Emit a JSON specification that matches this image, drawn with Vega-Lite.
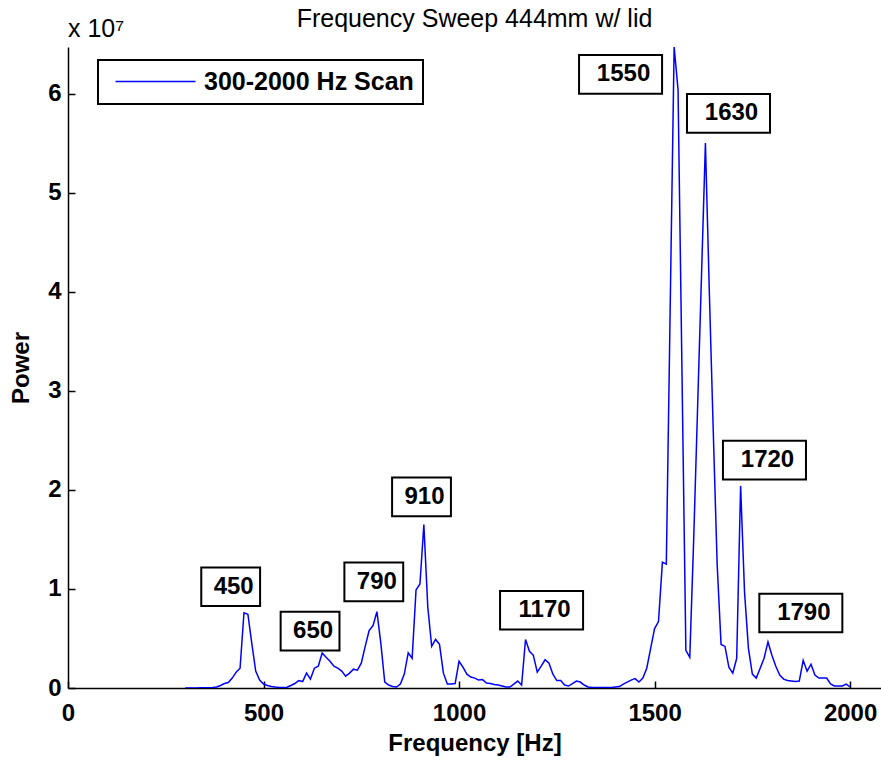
{
  "$schema": "https://vega.github.io/schema/vega-lite/v6.json",
  "width": 813,
  "height": 641,
  "autosize": {"type": "none"},
  "padding": {"left": 68, "top": 47, "right": 0, "bottom": 72},
  "background": "white",
  "title": {"text": "Frequency Sweep 444mm w/ lid", "fontSize": 25, "fontWeight": "normal", "font": "Liberation Sans", "color": "black", "offset": 0, "dy": 15, "anchor": "middle"},
  "config": {
    "view": {"stroke": null},
    "font": "Liberation Sans",
    "axis": {"domainColor": "black", "domainWidth": 1.5, "tickColor": "black", "tickWidth": 1.5, "tickSize": -7, "labelFont": "Liberation Sans", "labelFontSize": 24, "labelFontWeight": "bold", "labelColor": "black", "titleFont": "Liberation Sans", "titleFontSize": 24, "titleFontWeight": "bold", "titleColor": "black", "grid": false, "labelOverlap": false, "labelFlush": false},
    "legend": {"strokeColor": "black", "strokeWidth": 2, "fillColor": "white", "padding": 9, "labelFont": "Liberation Sans", "labelFontSize": 25, "labelFontWeight": "bold", "labelColor": "black", "labelLimit": 0}
  },
  "datasets": {
    "sweep": [
      {"f":300,"p":0},{"f":310,"p":10000},{"f":320,"p":10000},{"f":330,"p":10000},{"f":340,"p":20000},{"f":350,"p":20000},{"f":360,"p":30000},{"f":370,"p":50000},{"f":380,"p":100000},{"f":390,"p":250000},
      {"f":400,"p":450000},{"f":410,"p":550000},{"f":420,"p":1000000},{"f":430,"p":1600000},{"f":440,"p":2000000},{"f":450,"p":7600000},{"f":460,"p":7450000},{"f":470,"p":4500000},{"f":480,"p":1700000},{"f":490,"p":800000},
      {"f":500,"p":400000},{"f":510,"p":250000},{"f":520,"p":150000},{"f":530,"p":100000},{"f":540,"p":60000},{"f":550,"p":40000},{"f":560,"p":80000},{"f":570,"p":250000},{"f":580,"p":450000},{"f":590,"p":750000},
      {"f":600,"p":650000},{"f":610,"p":1500000},{"f":620,"p":900000},{"f":630,"p":2000000},{"f":640,"p":2200000},{"f":650,"p":3540000},{"f":660,"p":3100000},{"f":670,"p":2700000},{"f":680,"p":2200000},{"f":690,"p":2000000},
      {"f":700,"p":1700000},{"f":710,"p":1200000},{"f":720,"p":1500000},{"f":730,"p":1900000},{"f":740,"p":1800000},{"f":750,"p":2500000},{"f":760,"p":4200000},{"f":770,"p":5800000},{"f":780,"p":6300000},{"f":790,"p":7700000},
      {"f":800,"p":4500000},{"f":810,"p":600000},{"f":820,"p":300000},{"f":830,"p":150000},{"f":840,"p":100000},{"f":850,"p":400000},{"f":860,"p":1400000},{"f":870,"p":3540000},{"f":880,"p":3000000},{"f":890,"p":9900000},
      {"f":900,"p":10500000},{"f":910,"p":16500000},{"f":920,"p":8200000},{"f":930,"p":4200000},{"f":940,"p":4900000},{"f":950,"p":4400000},{"f":960,"p":1500000},{"f":970,"p":400000},{"f":980,"p":400000},{"f":990,"p":450000},
      {"f":1000,"p":2700000},{"f":1010,"p":2100000},{"f":1020,"p":1400000},{"f":1030,"p":1100000},{"f":1040,"p":1000000},{"f":1050,"p":800000},{"f":1060,"p":850000},{"f":1070,"p":500000},{"f":1080,"p":450000},{"f":1090,"p":350000},
      {"f":1100,"p":300000},{"f":1110,"p":200000},{"f":1120,"p":100000},{"f":1130,"p":100000},{"f":1140,"p":400000},{"f":1150,"p":700000},{"f":1160,"p":300000},{"f":1170,"p":4900000},{"f":1180,"p":3700000},{"f":1190,"p":3300000},
      {"f":1200,"p":1600000},{"f":1210,"p":2200000},{"f":1220,"p":2850000},{"f":1230,"p":2500000},{"f":1240,"p":1400000},{"f":1250,"p":750000},{"f":1260,"p":750000},{"f":1270,"p":300000},{"f":1280,"p":200000},{"f":1290,"p":450000},
      {"f":1300,"p":700000},{"f":1310,"p":600000},{"f":1320,"p":300000},{"f":1330,"p":100000},{"f":1340,"p":50000},{"f":1350,"p":40000},{"f":1360,"p":40000},{"f":1370,"p":40000},{"f":1380,"p":40000},{"f":1390,"p":50000},
      {"f":1400,"p":100000},{"f":1410,"p":150000},{"f":1420,"p":400000},{"f":1430,"p":600000},{"f":1440,"p":800000},{"f":1450,"p":950000},{"f":1460,"p":600000},{"f":1470,"p":1000000},{"f":1480,"p":2000000},{"f":1490,"p":4000000},
      {"f":1500,"p":6000000},{"f":1510,"p":6700000},{"f":1520,"p":12700000},{"f":1530,"p":12500000},{"f":1550,"p":64700000},{"f":1560,"p":60400000},{"f":1580,"p":3800000},{"f":1590,"p":3100000},
      {"f":1600,"p":15000000},{"f":1630,"p":55000000},{"f":1640,"p":40000000},{"f":1650,"p":26000000},{"f":1660,"p":12500000},{"f":1670,"p":4400000},{"f":1680,"p":4200000},{"f":1690,"p":2100000},
      {"f":1700,"p":1500000},{"f":1710,"p":3000000},{"f":1720,"p":20400000},{"f":1730,"p":9700000},{"f":1740,"p":4000000},{"f":1750,"p":1400000},{"f":1760,"p":1000000},{"f":1770,"p":2000000},{"f":1780,"p":3000000},{"f":1790,"p":4650000},
      {"f":1800,"p":3300000},{"f":1810,"p":2200000},{"f":1820,"p":1300000},{"f":1830,"p":900000},{"f":1840,"p":750000},{"f":1850,"p":700000},{"f":1860,"p":650000},{"f":1870,"p":700000},{"f":1880,"p":2800000},{"f":1890,"p":1700000},
      {"f":1900,"p":2400000},{"f":1910,"p":1300000},{"f":1920,"p":1000000},{"f":1930,"p":1000000},{"f":1940,"p":1000000},{"f":1950,"p":400000},{"f":1960,"p":200000},{"f":1970,"p":200000},{"f":1980,"p":200000},{"f":1990,"p":400000},
      {"f":2000,"p":100000}
    ],
    "ann": [
      {"f":416,"p":10220000,"label":"450"},
      {"f":619,"p":5750000,"label":"650"},
      {"f":782,"p":10710000,"label":"790"},
      {"f":904,"p":19300000,"label":"910"},
      {"f":1211,"p":7850000,"label":"1170"},
      {"f":1413,"p":61940000,"label":"1550"},
      {"f":1689,"p":58000000,"label":"1630"},
      {"f":1781,"p":23000000,"label":"1720"},
      {"f":1874,"p":7570000,"label":"1790"}
    ],
    "exp": [{"f":0,"p":64700000,"t":"x 10⁷"}]
  },
  "encoding": {
    "x": {"field": "f", "type": "quantitative", "scale": {"domain": [0, 2079], "nice": false, "zero": false},
      "axis": {"values": [0, 500, 1000, 1500, 2000], "format": "d", "labelPadding": 20, "title": "Frequency [Hz]", "titlePadding": 6}},
    "y": {"field": "p", "type": "quantitative", "scale": {"domain": [0, 64700000], "nice": false},
      "axis": {"values": [0, 10000000, 20000000, 30000000, 40000000, 50000000, 60000000], "labelExpr": "format(datum.value / 10000000, 'd')", "labelPadding": 14, "title": "Power", "titlePadding": 14}}
  },
  "layer": [
    {
      "data": {"name": "sweep"},
      "mark": {"type": "line", "strokeWidth": 1.5, "clip": true},
      "encoding": {
        "color": {"datum": "300-2000 Hz Scan", "type": "nominal", "scale": {"range": ["#0000ff"]},
          "legend": {"title": null, "orient": "none", "legendX": 30, "legendY": 13, "symbolType": "M-4,0H4", "symbolSize": 400, "symbolStrokeWidth": 1.5, "symbolOffset": 36, "labelOffset": 36, "labelLimit": 0}}
      }
    },
    {
      "data": {"name": "ann"},
      "transform": [{"filter": "length(datum.label) == 3"}],
      "mark": {"type": "point", "shape": "M-1.52,-1H1.52V1H-1.52Z", "size": 1498, "filled": true, "fill": "white", "stroke": "black", "strokeWidth": 2, "opacity": 1}
    },
    {
      "data": {"name": "ann"},
      "transform": [{"filter": "length(datum.label) == 4"}],
      "mark": {"type": "point", "shape": "M-2.145,-1H2.145V1H-2.145Z", "size": 1498, "filled": true, "fill": "white", "stroke": "black", "strokeWidth": 2, "opacity": 1}
    },
    {
      "data": {"name": "ann"},
      "mark": {"type": "text", "fontSize": 24, "fontWeight": "bold", "color": "black", "align": "center", "baseline": "middle", "dx": 3},
      "encoding": {"text": {"field": "label", "type": "nominal"}}
    },
    {
      "data": {"name": "exp"},
      "mark": {"type": "text", "fontSize": 25, "fontWeight": "normal", "color": "black", "align": "left", "baseline": "alphabetic", "dy": -10, "clip": false},
      "encoding": {
        "text": {"field": "t", "type": "nominal"}
      }
    }
  ]
}
